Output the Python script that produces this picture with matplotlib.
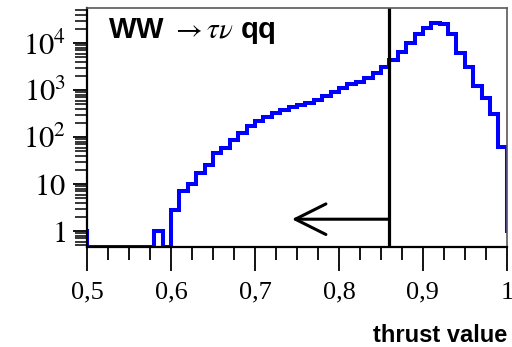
import numpy as np
import matplotlib
matplotlib.use("Agg")
import matplotlib.pyplot as plt
from matplotlib.ticker import FixedLocator, FuncFormatter, LogLocator, NullFormatter, MultipleLocator

# histogram of thrust value, bins of 0.01 from 0.50 to 1.00
bin_edges = np.round(np.arange(0.50, 1.0001, 0.01), 2)
counts = [0, 0, 0, 0, 0, 0, 0, 0, 1, 0,
          2.8, 7.3, 10, 17, 25, 46, 58, 89, 123, 171,
          219, 273, 319, 375, 428, 480, 537, 622, 764, 920,
          1090, 1340, 1500, 1780, 2270, 3130, 4290, 6530, 10000, 15400,
          21400, 26600, 25700, 15800, 6040, 3090, 1220, 666, 309, 61]
underflow = 1
overflow = 1

cut_value = 0.86
arrow_end = 0.744
arrow_level = 1.8

x_ticks = [0.5, 0.6, 0.7, 0.8, 0.9, 1.0]
y_ticks = [1, 10, 100, 1000, 10000]
title_text = r"WW $\rightarrow\tau\nu$ qq"
x_title = "thrust value"

plt.rcParams['font.family'] = 'Liberation Serif'
plt.rcParams['mathtext.fontset'] = 'stix'

ymin, ymax = 0.46, 5.6e4

fig = plt.figure(figsize=(5.12, 3.47), dpi=100)
ax = fig.add_axes([0.170, 0.288, 0.820, 0.689])

# add the under/overflow so the outer edges get drawn like the original
edges = np.concatenate([[bin_edges[0] - 0.01], bin_edges, [bin_edges[-1] + 0.01]])
vals = np.array([underflow] + counts + [overflow], dtype=float)
vals = np.where(vals > 0, vals, ymin)
ax.stairs(vals, edges, color='#0000ff', lw=2.9, baseline=None)

ax.set_yscale('log')
ax.set_xlim(0.5, 1.0)
ax.set_ylim(ymin, ymax)

# cut line and arrow
ax.axvline(cut_value, color='black', lw=2.3)
ax.annotate('', xy=(arrow_end, arrow_level), xytext=(cut_value, arrow_level),
            arrowprops=dict(arrowstyle='->,head_length=2.2,head_width=1.1',
                            lw=2.2, color='black', shrinkA=0, shrinkB=0,
                            mutation_scale=10))

ax.text(0.05, 0.905, title_text, transform=ax.transAxes, fontsize=21,
        fontweight='bold', family='Liberation Sans', va='center', ha='left')

# x axis
ax.xaxis.set_major_locator(FixedLocator(x_ticks))
ax.xaxis.set_minor_locator(MultipleLocator(0.025))
ax.xaxis.set_major_formatter(FuncFormatter(
    lambda v, p: ('%g' % v).replace('.', ',')))
ax.tick_params(axis='x', which='major', direction='out', length=17, width=1.3,
               labelsize=19, pad=8)
ax.tick_params(axis='x', which='minor', direction='out', length=9, width=1.3)


def ylab(v, p):
    e = int(round(np.log10(v)))
    if e == 0:
        return r"$1\;\,$"
    if e == 1:
        return r"$10\;\,$"
    return r"$10^{%d}$" % e


ax.yaxis.set_major_locator(FixedLocator(y_ticks))
ax.yaxis.set_minor_locator(LogLocator(base=10, subs=np.arange(2, 10), numticks=30))
ax.yaxis.set_minor_formatter(NullFormatter())
ax.yaxis.set_major_formatter(FuncFormatter(ylab))
ax.tick_params(axis='y', which='major', direction='out', length=10, width=1.3,
               labelsize=22, pad=5)
ax.tick_params(axis='y', which='minor', direction='out', length=9, width=1.1)

# axis title sits in the bottom-right corner of the figure
fig.text(507 / 512, 0.014, x_title, ha='right', va='baseline', fontsize=17,
         fontweight='bold', family='Liberation Sans')

for s in ['left', 'bottom']:
    ax.spines[s].set_linewidth(1.6)
    ax.spines[s].set_color('black')
for s in ['top', 'right']:
    ax.spines[s].set_linewidth(1.2)
    ax.spines[s].set_color('0.35')

fig.savefig('out.png', dpi=100)
